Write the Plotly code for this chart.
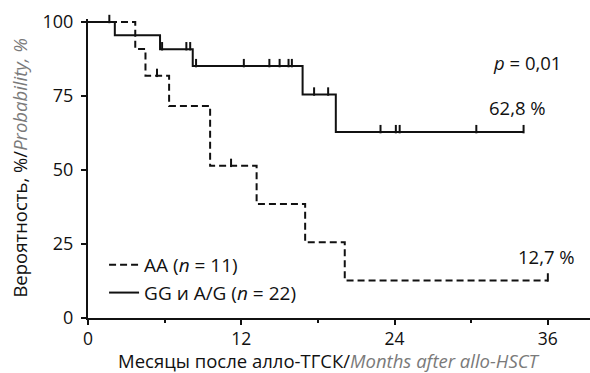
import numpy as np
import plotly.graph_objects as go

# Kaplan-Meier step data (months, %)
aa_times = [0, 3.7, 4.5, 6.35, 9.56, 13.2, 17.0, 20.1, 36.0]
aa_surv = [100, 90.9, 81.8, 71.6, 51.4, 38.5, 25.6, 12.7, 12.7]
aa_censor = [5.4, 11.2, 36.0]

gg_times = [0, 2.1, 5.64, 8.2, 16.8, 19.4, 34.1]
gg_surv = [100, 95.5, 90.8, 85.1, 75.5, 62.8, 62.8]
gg_censor = [1.67, 5.8, 7.7, 8.0, 8.46, 12.2, 14.2, 15.0, 15.7, 15.96,
             17.7, 18.8, 22.9, 24.1, 24.4, 30.4, 34.1]

x_ticks = [0, 12, 24, 36]
y_ticks = [0, 25, 50, 75, 100]

FONT = "Open Sans"
GREY = "#7a7a7a"


def step_value(times, surv, t):
    idx = np.searchsorted(np.array(times), t, side="right") - 1
    return surv[idx]


fig = go.Figure()

fig.add_trace(go.Scatter(
    x=aa_times, y=aa_surv, mode="lines", line_shape="hv",
    line=dict(color="#111", width=2, dash="7px,4px"),
    name="AA (<i>n</i> = 11)",
))
fig.add_trace(go.Scatter(
    x=gg_times, y=gg_surv, mode="lines", line_shape="hv",
    line=dict(color="#111", width=2),
    name="GG и A/G (<i>n</i> = 22)",
))

# censor ticks
for times, surv, cens in [(aa_times, aa_surv, aa_censor), (gg_times, gg_surv, gg_censor)]:
    ys = [step_value(times, surv, c) + 1.0 for c in cens]
    fig.add_trace(go.Scatter(
        x=cens, y=ys, mode="markers", showlegend=False, cliponaxis=False,
        marker=dict(symbol="line-ns", size=6, line=dict(color="#111", width=2)),
    ))

fig.add_annotation(x=37.17, y=86.4, xref="x", yref="y", text="<i>p</i> = 0,01",
                   showarrow=False, xanchor="right", font=dict(size=18.5, color="#111"))
fig.add_annotation(x=36.0, y=71.2, xref="x", yref="y", text="62,8 %",
                   showarrow=False, xanchor="right", font=dict(size=18.5, color="#111"))
fig.add_annotation(x=38.26, y=20.9, xref="x", yref="y", text="12,7 %",
                   showarrow=False, xanchor="right", font=dict(size=18.5, color="#111"))

x_title = "Месяцы после алло-ТГСК/<i><span style='color:" + GREY + "'>Months after allo-HSCT</span></i>"
y_title = "Вероятность, %/<i><span style='color:" + GREY + "'>Probability, %</span></i>"

# axis titles as annotations for exact placement
fig.add_annotation(x=0.48, y=-0.141, xref="paper", yref="paper", text=x_title,
                   showarrow=False, xanchor="center", yanchor="middle",
                   font=dict(size=18.5, color="#111"))
fig.add_annotation(x=-0.1355, y=0.503, xref="paper", yref="paper", text=y_title,
                   showarrow=False, xanchor="center", yanchor="middle", textangle=-90,
                   font=dict(size=18.5, color="#111"))

fig.update_layout(
    width=590, height=373,
    margin=dict(l=88, r=0, t=19, b=55),
    paper_bgcolor="white", plot_bgcolor="white",
    font=dict(family=FONT, size=18, color="#111"),
    showlegend=True,
    legend=dict(x=0.032, y=0.02, xanchor="left", yanchor="bottom",
                bgcolor="rgba(0,0,0,0)", font=dict(size=19),
                tracegroupgap=0, itemwidth=30),
    xaxis=dict(
        range=[0, 39.3], tickvals=x_ticks, ticktext=[str(v) for v in x_ticks],
        showgrid=False, zeroline=False, showline=True, linecolor="#111", linewidth=2,
        ticks="outside", ticklen=5, tickwidth=2, tickcolor="#111",
        minor=dict(dtick=6, tick0=0, ticks="outside", ticklen=3, tickwidth=2, tickcolor="#111"),
        tickfont=dict(size=17.5), ticklabelstandoff=-1,
    ),
    yaxis=dict(
        range=[0, 101], tickvals=y_ticks, ticktext=[str(v) for v in y_ticks],
        showgrid=False, zeroline=False, showline=True, linecolor="#111", linewidth=2,
        ticks="outside", ticklen=5, tickwidth=2, tickcolor="#111",
        tickfont=dict(size=18), ticklabelstandoff=4,
    ),
)

fig.write_html("out.html")
